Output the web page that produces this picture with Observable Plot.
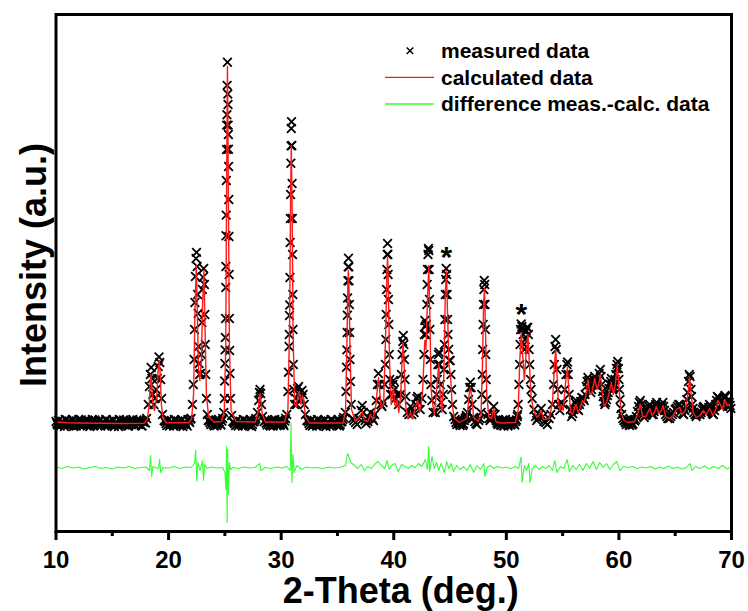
<!DOCTYPE html>
<html>
<head>
<meta charset="utf-8">
<script src="https://cdn.jsdelivr.net/npm/d3@7"></script>
<script src="https://cdn.jsdelivr.net/npm/@observablehq/plot@0.6"></script>
<style>
  html, body { margin: 0; padding: 0; background: #fff; }
</style>
</head>
<body>
<div id="chart"></div>
<script>
// ---- Data (2-Theta in degrees, intensity in a.u.) ----
const xTicks = [10, 20, 30, 40, 50, 60, 70];
const xMinorTicks = [15, 25, 35, 45, 55, 65];
const legendLabels = ["measured data", "calculated data", "difference meas.-calc. data"];
const xTitle = "2-Theta (deg.)";
const yTitle = "Intensity (a.u.)";

// calculated (Rietveld) profile
const calculated = [
[10.0,525],[11,518],[12,515],[14,512],[16,510],[17.8,512],[18.1,545],[18.28,700],[18.36,900],[18.43,1000],[18.5,900],[18.6,700],[18.75,640],[18.95,780],[19.08,1050],[19.17,1140],[19.26,1000],[19.36,700],[19.5,560],[19.8,518],[21.8,518],[22.05,560],[22.22,800],[22.34,1600],[22.46,2090],[22.56,1600],[22.66,1050],[22.78,940],[22.92,1150],[23.02,1700],[23.14,2040],[23.24,1450],[23.36,800],[23.55,580],[24.0,525],[24.7,530],[24.95,640],[25.08,1300],[25.16,3000],[25.23,4080],[25.3,3000],[25.4,1300],[25.55,640],[26.0,530],[27.7,525],[27.95,620],[28.05,760],[28.12,810],[28.2,740],[28.32,600],[28.6,525],[30.3,525],[30.6,650],[30.75,1500],[30.84,2800],[30.9,3290],[30.97,2700],[31.06,1400],[31.2,700],[31.35,680],[31.5,800],[31.62,830],[31.75,700],[31.88,790],[32.0,760],[32.15,580],[32.5,515],[35.5,515],[35.72,640],[35.84,1300],[35.92,1900],[35.97,2040],[36.03,1850],[36.12,1200],[36.25,650],[36.6,530],[37.0,580],[37.2,630],[37.38,540],[37.7,530],[37.93,600],[38.15,550],[38.42,700],[38.56,880],[38.64,970],[38.72,880],[38.88,660],[39.1,700],[39.28,1400],[39.38,1950],[39.45,2170],[39.52,1900],[39.62,1150],[39.78,700],[39.9,820],[39.98,870],[40.08,700],[40.2,680],[40.3,760],[40.45,620],[40.62,800],[40.74,1150],[40.83,1320],[40.92,1100],[41.05,700],[41.25,560],[41.48,620],[41.65,560],[41.95,680],[42.13,740],[42.3,620],[42.55,800],[42.76,1340],[42.86,1250],[42.98,1700],[43.11,2090],[43.22,1500],[43.32,850],[43.41,740],[43.6,600],[43.85,900],[44.0,1110],[44.12,800],[44.28,620],[44.45,1000],[44.58,1800],[44.68,2040],[44.78,1600],[44.9,1100],[45.04,1000],[45.18,700],[45.4,560],[45.8,520],[46.5,560],[46.7,800],[46.81,870],[46.92,780],[47.1,570],[47.5,530],[47.75,600],[47.88,1100],[47.98,1700],[48.06,1860],[48.14,1500],[48.26,800],[48.45,570],[48.7,560],[48.88,660],[49.05,530],[49.5,515],[50.8,520],[51.05,640],[51.2,1150],[51.33,1420],[51.45,1200],[51.6,950],[51.78,1250],[51.92,1400],[52.05,1100],[52.2,780],[52.4,650],[52.7,570],[52.95,600],[53.1,640],[53.3,550],[53.8,560],[54.1,720],[54.28,1100],[54.38,1250],[54.48,1050],[54.62,720],[54.75,640],[54.9,700],[55.05,640],[55.25,900],[55.42,1070],[55.55,850],[55.72,620],[55.9,600],[56.1,680],[56.2,700],[56.38,620],[56.55,660],[56.75,740],[56.9,720],[57.05,780],[57.25,950],[57.42,800],[57.6,820],[57.85,960],[58.05,850],[58.2,900],[58.35,1000],[58.52,820],[58.7,680],[58.9,720],[59.1,800],[59.33,920],[59.5,800],[59.68,900],[59.86,1100],[60.02,850],[60.2,620],[60.45,540],[60.8,520],[61.4,530],[61.7,620],[61.9,700],[62.1,580],[62.4,580],[62.73,660],[62.95,590],[63.15,620],[63.32,680],[63.55,610],[63.75,640],[63.92,690],[64.15,580],[64.5,560],[64.8,590],[65.1,650],[65.4,670],[65.6,600],[65.9,640],[66.12,800],[66.28,970],[66.42,800],[66.6,620],[66.87,570],[67.2,590],[67.5,640],[67.75,600],[68.06,660],[68.35,590],[68.6,650],[68.8,740],[69.0,700],[69.2,650],[69.4,750],[69.6,690],[69.83,700],[70.0,640]
];

// measured data points (x markers)
const measured = [
[10.0,530],[10.15,495],[10.3,545],[10.45,505],[10.6,525],[10.75,480],[10.9,540],[11.05,500],[11.2,520],[11.35,490],[11.5,550],[11.65,510],[11.8,485],[11.95,535],[12.1,500],[12.25,545],[12.4,490],[12.55,520],[12.7,505],[12.85,540],[13.0,480],[13.15,525],[13.3,500],[13.45,545],[13.6,510],[13.75,490],[13.9,535],[14.05,500],[14.2,520],[14.35,485],[14.5,545],[14.65,505],[14.8,530],[14.95,490],[15.1,540],[15.25,500],[15.4,520],[15.55,480],[15.7,535],[15.85,505],[16.0,545],[16.15,495],[16.3,520],[16.45,485],[16.6,540],[16.75,505],[16.9,525],[17.05,490],[17.2,545],[17.35,500],[17.5,530],[17.65,485],[17.8,540],[17.95,515],
[18.05,560],[18.2,700],[18.3,880],[18.38,1000],[18.45,1070],[18.52,960],[18.6,800],[18.7,700],[18.8,760],[18.9,850],[19.0,960],[19.08,1080],[19.15,1175],[19.22,1120],[19.3,950],[19.38,760],[19.46,600],[19.6,540],
[19.7,530],[19.85,490],[20.0,545],[20.15,500],[20.3,520],[20.45,485],[20.6,540],[20.75,505],[20.9,525],[21.05,490],[21.2,545],[21.35,500],[21.5,520],[21.65,485],[21.8,540],[21.95,555],
[22.0,560],[22.12,700],[22.2,900],[22.26,1150],[22.3,1450],[22.34,1720],[22.38,1980],[22.44,2160],[22.48,2221],[22.54,2080],[22.58,1800],[22.62,1610],[22.66,1280],[22.7,1110],[22.76,1000],[22.84,1010],[22.9,1200],[22.96,1520],[23.0,1850],[23.06,1972],[23.12,2060],[23.18,1900],[23.22,1600],[23.26,1300],[23.3,1000],[23.36,760],[23.44,600],[23.52,540],
[23.6,540],[23.75,500],[23.9,530],[24.05,485],[24.2,545],[24.35,505],[24.5,525],[24.65,495],[24.8,560],
[24.9,620],[24.95,760],[24.98,935],[25.0,1110],[25.02,1246],[25.04,1370],[25.06,1560],[25.08,1870],[25.09,2080],[25.1,2387],[25.12,2594],[25.13,2940],[25.15,3250],[25.16,3494],[25.18,3597],[25.2,3891],[25.23,4123],[25.26,3805],[25.28,3700],[25.29,3494],[25.31,3400],[25.32,3252],[25.33,3080],[25.35,2750],[25.36,2380],[25.38,2000],[25.4,1560],[25.42,1240],[25.45,1010],[25.5,760],[25.6,590],[25.7,530],
[25.8,520],[25.95,490],[26.1,545],[26.25,500],[26.4,525],[26.55,485],[26.7,540],[26.85,505],[27.0,520],[27.15,490],[27.3,545],[27.45,500],[27.6,530],[27.75,560],
[27.9,620],[28.0,740],[28.07,820],[28.12,850],[28.18,810],[28.25,700],[28.35,580],[28.48,530],
[28.6,540],[28.75,495],[28.9,525],[29.05,485],[29.2,545],[29.35,505],[29.5,520],[29.65,490],[29.8,540],[29.95,500],[30.1,525],[30.25,490],[30.4,560],
[30.5,600],[30.6,830],[30.65,1022],[30.7,1280],[30.72,1400],[30.74,1590],[30.76,1695],[30.78,1970],[30.8,2320],[30.82,2560],[30.84,2800],[30.86,3113],[30.88,3286],[30.9,3460],[30.92,3528],[30.95,3290],[30.97,2910],[30.99,2560],[31.01,2200],[31.03,1800],[31.05,1450],[31.08,1100],[31.12,850],[31.2,700],
[31.3,760],[31.38,700],[31.45,860],[31.55,880],[31.65,820],[31.75,760],[31.85,840],[31.95,800],[32.05,700],[32.15,600],[32.28,540],
[32.4,530],[32.55,490],[32.7,545],[32.85,500],[33.0,520],[33.15,485],[33.3,540],[33.45,505],[33.6,525],[33.75,490],[33.9,545],[34.05,500],[34.2,520],[34.35,485],[34.5,540],[34.65,505],[34.8,525],[34.95,490],[35.1,545],[35.25,500],[35.4,530],[35.55,570],
[35.7,620],[35.76,830],[35.8,1073],[35.83,1246],[35.86,1420],[35.88,1592],[35.9,1765],[35.93,1938],[35.95,2076],[35.98,2162],[36.01,2076],[36.03,1938],[36.06,1700],[36.08,1420],[36.11,1150],[36.15,930],[36.22,700],[36.35,560],
[36.45,540],[36.6,520],[36.75,500],[36.9,560],[37.1,640],[37.2,690],[37.3,620],[37.45,540],[37.55,510],[37.7,530],[37.8,560],[37.93,620],[38.1,560],[38.2,540],[38.3,600],
[38.45,740],[38.55,900],[38.64,1010],[38.72,900],[38.85,700],[38.95,680],[39.05,720],
[39.2,900],[39.26,1100],[39.3,1350],[39.33,1600],[39.36,1850],[39.39,2050],[39.42,2200],[39.45,2310],[39.48,2200],[39.5,2000],[39.53,1750],[39.56,1500],[39.6,1200],[39.65,950],[39.72,800],
[39.85,800],[39.92,900],[39.98,940],[40.06,850],[40.15,760],[40.3,800],[40.42,700],
[40.6,800],[40.68,1000],[40.74,1200],[40.8,1330],[40.85,1390],[40.9,1300],[40.95,1150],[41.0,950],[41.08,780],[41.2,620],
[41.35,600],[41.48,680],[41.6,600],[41.8,620],[41.95,700],[42.05,760],[42.13,780],[42.22,720],[42.35,650],[42.5,760],
[42.6,950],[42.68,1200],[42.72,1400],[42.76,1540],[42.8,1480],[42.86,1400],[42.9,1500],[42.94,1700],[42.97,1900],[43.0,2050],[43.04,2200],[43.08,2260],[43.11,2240],[43.15,2050],[43.18,1750],[43.21,1450],[43.25,1150],[43.3,900],[43.38,740],[43.5,620],
[43.7,620],[43.8,800],[43.86,950],[43.92,1100],[43.97,1200],[44.02,1223],[44.08,1100],[44.14,900],[44.2,720],[44.3,650],
[44.4,800],[44.46,1050],[44.5,1300],[44.54,1550],[44.58,1800],[44.62,1950],[44.66,2060],[44.7,2000],[44.74,1800],[44.78,1550],[44.82,1400],[44.88,1250],[44.95,1140],[45.02,1140],[45.08,1000],[45.14,850],[45.22,700],[45.33,580],
[45.45,550],[45.6,500],[45.75,530],[45.9,490],[46.05,540],[46.2,505],[46.35,560],[46.45,590],
[46.55,620],[46.65,750],[46.74,870],[46.81,923],[46.88,870],[46.97,700],[47.1,570],[47.2,530],[47.3,510],[47.4,500],[47.55,540],[47.65,560],
[47.75,620],[47.82,800],[47.86,1000],[47.9,1250],[47.94,1500],[47.97,1700],[48.0,1850],[48.04,1940],[48.08,1900],[48.11,1700],[48.14,1450],[48.17,1200],[48.21,950],[48.26,750],[48.35,600],[48.45,560],[48.55,540],[48.65,560],[48.75,600],[48.88,680],[49.0,600],
[49.1,540],[49.25,500],[49.4,525],[49.55,490],[49.7,545],[49.85,500],[50.0,520],[50.15,485],[50.3,540],[50.45,505],[50.6,525],[50.75,495],[50.9,545],[51.0,600],
[51.05,700],[51.12,900],[51.18,1100],[51.22,1300],[51.27,1450],[51.32,1505],[51.38,1480],[51.44,1450],[51.5,1400],[51.56,1300],[51.62,1250],[51.68,1350],[51.75,1440],[51.82,1470],[51.9,1470],[51.96,1400],[52.02,1250],[52.08,1100],[52.14,950],[52.2,850],[52.3,760],[52.45,650],[52.6,580],
[52.7,540],[52.8,560],[52.95,600],[53.1,660],[53.25,580],[53.35,530],[53.5,520],[53.65,500],[53.8,560],[53.95,600],
[54.1,700],[54.2,900],[54.26,1100],[54.32,1280],[54.38,1350],[54.44,1250],[54.5,1050],[54.56,850],[54.65,700],[54.75,640],[54.9,720],
[55.05,700],[55.2,850],[55.3,1000],[55.38,1100],[55.44,1125],[55.5,1000],[55.58,800],[55.68,650],[55.8,580],
[55.9,610],[56.0,650],[56.1,720],[56.2,740],[56.28,690],[56.35,650],[56.42,640],[56.5,700],[56.6,730],[56.7,770],[56.85,760],[56.92,740],[57.0,800],
[57.1,880],[57.18,930],[57.25,970],[57.32,940],[57.38,900],[57.5,820],[57.58,850],[57.65,900],[57.75,950],[57.85,980],[57.92,940],[58.0,900],[58.08,880],[58.15,950],[58.25,1010],[58.35,1050],[58.42,980],[58.48,900],[58.55,830],[58.6,780],[58.68,730],[58.75,700],[58.82,720],[58.9,750],[58.98,790],[59.05,820],[59.12,860],[59.2,900],[59.27,930],[59.33,960],[59.4,900],[59.45,850],[59.52,870],[59.6,900],[59.66,950],[59.72,1000],[59.78,1060],[59.83,1100],[59.9,1130],[59.95,1060],[60.0,950],[60.05,850],[60.1,750],[60.18,660],[60.25,600],[60.35,560],[60.45,540],
[60.5,540],[60.65,500],[60.8,530],[60.95,490],[61.1,545],[61.25,505],[61.4,535],[61.55,580],
[61.65,630],[61.75,680],[61.82,720],[61.9,740],[61.98,700],[62.05,650],[62.15,600],[62.25,570],[62.35,590],[62.45,600],[62.52,620],[62.6,650],[62.67,680],[62.73,700],[62.8,660],[62.88,620],[62.95,600],[63.05,600],[63.12,630],[63.2,660],[63.28,700],[63.35,720],[63.42,680],[63.5,640],[63.6,640],[63.7,660],[63.8,690],[63.9,720],[63.97,680],[64.05,640],[64.15,600],[64.25,580],[64.35,560],[64.5,560],[64.6,580],[64.75,600],[64.85,620],[65.0,650],[65.1,660],[65.2,680],[65.3,700],[65.4,700],[65.48,670],[65.55,640],[65.65,610],[65.75,600],[65.85,640],[65.95,680],
[66.03,750],[66.1,820],[66.18,930],[66.25,1000],[66.32,980],[66.4,850],[66.45,780],[66.5,700],[66.58,660],[66.65,620],[66.75,600],[66.85,580],[66.92,600],[67.0,620],[67.1,610],[67.2,600],[67.3,620],[67.4,650],[67.48,670],[67.55,680],[67.62,650],[67.7,620],[67.8,630],[67.9,640],[67.98,670],[68.05,700],[68.12,660],[68.2,630],[68.3,610],[68.4,600],[68.5,640],[68.6,700],[68.68,740],[68.75,780],[68.82,770],[68.9,760],[68.98,730],[69.05,700],[69.12,690],[69.2,680],[69.28,720],[69.35,770],[69.42,790],[69.5,780],[69.58,730],[69.65,680],[69.72,700],[69.8,720],[69.88,690],[69.95,660]
];

// further measured points along the flat background stretches
const measuredBackground = [
[10.075,510],[10.225,540],[10.375,485],[10.525,530],[10.675,500],[10.825,550],[10.975,490],[11.125,535],[11.275,505],[11.425,545],[11.575,480],[11.725,525],[11.875,500],[12.025,550],[12.175,495],[12.325,530],[12.475,510],[12.625,545],[12.775,485],[12.925,525],[13.075,505],[13.225,550],[13.375,490],[13.525,530],[13.675,500],[13.825,545],[13.975,485],[14.125,525],[14.275,510],[14.425,550],[14.575,490],[14.725,530],[14.875,505],[15.025,545],[15.175,480],[15.325,525],[15.475,500],[15.625,550],[15.775,490],[15.925,530],[16.075,510],[16.225,545],[16.375,485],[16.525,525],[16.675,500],[16.825,550],[16.975,495],[17.125,530],[17.275,505],[17.425,545],[17.575,490],[17.725,525],[17.875,520],
[19.775,510],[19.925,540],[20.075,485],[20.225,530],[20.375,500],[20.525,550],[20.675,490],[20.825,535],[20.975,505],[21.125,545],[21.275,480],[21.425,525],[21.575,500],[21.725,550],[21.875,520],
[23.675,520],[23.825,545],[23.975,500],[24.125,530],[24.275,490],[24.425,550],[24.575,505],[24.725,535],
[25.875,510],[26.025,540],[26.175,485],[26.325,530],[26.475,500],[26.625,550],[26.775,490],[26.925,535],[27.075,505],[27.225,545],[27.375,480],[27.525,525],[27.675,545],
[28.675,515],[28.825,545],[28.975,495],[29.125,530],[29.275,485],[29.425,550],[29.575,505],[29.725,535],[29.875,490],[30.025,545],[30.175,510],[30.325,535],
[32.475,510],[32.625,540],[32.775,485],[32.925,530],[33.075,500],[33.225,550],[33.375,490],[33.525,535],[33.675,505],[33.825,545],[33.975,480],[34.125,525],[34.275,500],[34.425,550],[34.575,495],[34.725,530],[34.875,510],[35.025,545],[35.175,485],[35.325,525],[35.475,550],
[45.525,520],[45.675,545],[45.825,505],[45.975,525],[46.125,490],[46.275,540],[46.425,575],
[49.175,515],[49.325,545],[49.475,500],[49.625,530],[49.775,485],[49.925,550],[50.075,505],[50.225,530],[50.375,495],[50.525,545],[50.675,510],[50.825,530],[50.975,580],
[60.575,520],[60.725,545],[60.875,505],[61.025,530],[61.175,495],[61.325,545],[61.475,550]
];

// difference curve (measured - calculated, shown with an offset)
const difference = [
[10.0,75],[10.5,60],[11.0,80],[11.5,65],[12.0,75],[12.5,55],[13.0,70],[13.5,80],[14.0,60],[14.5,70],[15.0,55],[15.5,75],[16.0,65],[16.5,80],[17.0,60],[17.5,70],[18.0,75],[18.3,40],[18.4,190],[18.5,-20],[18.6,80],[19.1,60],[19.2,150],[19.3,20],[19.5,70],[20.0,65],[20.5,80],[21.0,60],[21.5,75],[22.0,70],[22.3,110],[22.4,243],[22.5,-68],[22.6,120],[22.8,40],[23.0,140],[23.1,-60],[23.2,100],[23.4,60],[23.8,75],[24.3,65],[24.8,70],[25.0,20],[25.1,-150],[25.15,280],[25.2,-480],[25.25,250],[25.3,-200],[25.4,120],[25.5,50],[25.7,70],[26.2,60],[26.7,75],[27.2,65],[27.7,70],[28.1,110],[28.2,40],[28.6,70],[29.1,60],[29.6,75],[30.1,65],[30.5,80],[30.8,40],[30.88,510],[30.95,-80],[31.05,200],[31.15,20],[31.4,90],[31.8,50],[32.2,75],[32.7,65],[33.2,70],[33.7,60],[34.2,75],[34.7,65],[35.2,70],[35.7,90],[35.9,210],[36.0,180],[36.2,120],[36.5,90],[36.8,60],[37.1,100],[37.4,40],[37.7,80],[38.0,60],[38.3,100],[38.6,130],[38.9,90],[39.2,60],[39.4,140],[39.6,50],[39.8,90],[40.1,110],[40.4,30],[40.7,100],[41.0,80],[41.3,60],[41.6,90],[41.9,70],[42.2,110],[42.5,80],[42.8,150],[43.0,50],[43.1,280],[43.2,30],[43.4,180],[43.6,60],[43.8,120],[44.0,40],[44.2,110],[44.5,20],[44.7,130],[44.9,60],[45.1,110],[45.3,30],[45.6,90],[45.9,50],[46.2,80],[46.5,40],[46.8,100],[47.1,20],[47.4,90],[47.7,50],[48.0,110],[48.1,-20],[48.3,70],[48.6,90],[48.9,60],[49.2,80],[49.6,65],[50.0,75],[50.4,60],[50.8,80],[51.1,60],[51.3,175],[51.4,-80],[51.6,90],[51.8,40],[52.0,110],[52.1,-80],[52.3,60],[52.6,90],[52.9,50],[53.2,80],[53.5,60],[53.8,90],[54.1,40],[54.3,140],[54.5,20],[54.8,80],[55.1,60],[55.4,150],[55.6,30],[55.9,90],[56.2,50],[56.5,100],[56.8,40],[57.1,110],[57.4,60],[57.7,130],[58.0,50],[58.3,120],[58.6,70],[58.9,110],[59.2,50],[59.5,100],[59.8,130],[60.1,40],[60.4,80],[60.8,70],[61.2,80],[61.6,60],[62.0,75],[62.4,65],[62.8,80],[63.2,55],[63.6,75],[64.0,60],[64.4,85],[64.8,60],[65.2,75],[65.6,55],[66.0,70],[66.3,110],[66.5,40],[66.8,80],[67.2,60],[67.6,85],[68.0,55],[68.4,80],[68.8,60],[69.2,90],[69.6,55],[70.0,75]
];

// asterisk-marked reflections (2-Theta, measured peak intensity)
const starred = [[44.68, 2076], [51.33, 1505]];

// ---- Chart ----
const FONT = "'Liberation Sans', Arial, Helvetica, sans-serif";
const RED = "#ff1a1a";
const GREEN = "#33ff33";
const allMeasured = measured.concat(measuredBackground);

const chart = Plot.plot({
  width: 748,
  height: 611,
  marginLeft: 55.5,
  marginRight: 17,
  marginTop: 14,
  marginBottom: 80,
  style: { fontFamily: FONT, background: "#fff", overflow: "visible" },
  x: { domain: [10, 70] },
  y: { domain: [-570, 4600], axis: null },
  marks: [
    Plot.line(difference, { x: d => d[0], y: d => d[1], stroke: GREEN, strokeWidth: 1.1 }),
    Plot.dot(allMeasured, { x: d => d[0], y: d => d[1], symbol: "times", r: 4, stroke: "#000", strokeWidth: 1.8 }),
    Plot.line(calculated, { x: d => d[0], y: d => d[1], stroke: RED, strokeWidth: 1.4 }),
    Plot.text(starred, { x: d => d[0], y: d => d[1], text: () => "*", dy: -10, fontSize: 30, fontWeight: "bold", fill: "#000" }),
    Plot.frame({ stroke: "#000", strokeWidth: 3 }),
    Plot.axisX(xMinorTicks, { tickSize: 5, strokeWidth: 3, tickFormat: () => "", label: null }),
    Plot.axisX(xTicks, { tickSize: 9, strokeWidth: 3, tickPadding: 10, fontSize: 24, fontWeight: "bold", fill: "#000", label: null }),
    Plot.text([xTitle], { text: d => d, frameAnchor: "bottom", textAnchor: "middle", dx: 7, dy: 60, lineAnchor: "middle", fontSize: 36, fontWeight: "bold", fill: "#000" }),
    Plot.text([yTitle], { text: d => d, frameAnchor: "left", textAnchor: "middle", rotate: -90, dx: -22, dy: -8, lineAnchor: "middle", fontSize: 36, fontWeight: "bold", fill: "#000" })
  ]
});

// legend inside the plot area (top right)
const svg = d3.select(chart);
const leg = svg.append("g")
  .attr("font-family", FONT)
  .attr("font-weight", "bold")
  .attr("font-size", 21)
  .attr("text-anchor", "start")
  .attr("fill", "#000");
const rowY = [50.7, 77.3, 104];
legendLabels.forEach((label, i) => {
  leg.append("text").attr("x", 441).attr("y", rowY[i]).attr("dy", "0.35em").attr("text-anchor", "start").text(label);
});
leg.append("path")
  .attr("transform", `translate(410,${rowY[0]})`)
  .attr("d", d3.symbol(d3.symbolTimes, 30)())
  .attr("stroke", "#000").attr("stroke-width", 1.5).attr("fill", "none");
leg.append("line").attr("x1", 385).attr("x2", 434).attr("y1", rowY[1]).attr("y2", rowY[1]).attr("stroke", RED).attr("stroke-width", 1.3);
leg.append("line").attr("x1", 385).attr("x2", 434).attr("y1", rowY[2]).attr("y2", rowY[2]).attr("stroke", GREEN).attr("stroke-width", 1.3);

document.getElementById("chart").appendChild(chart);
</script>
</body>
</html>
